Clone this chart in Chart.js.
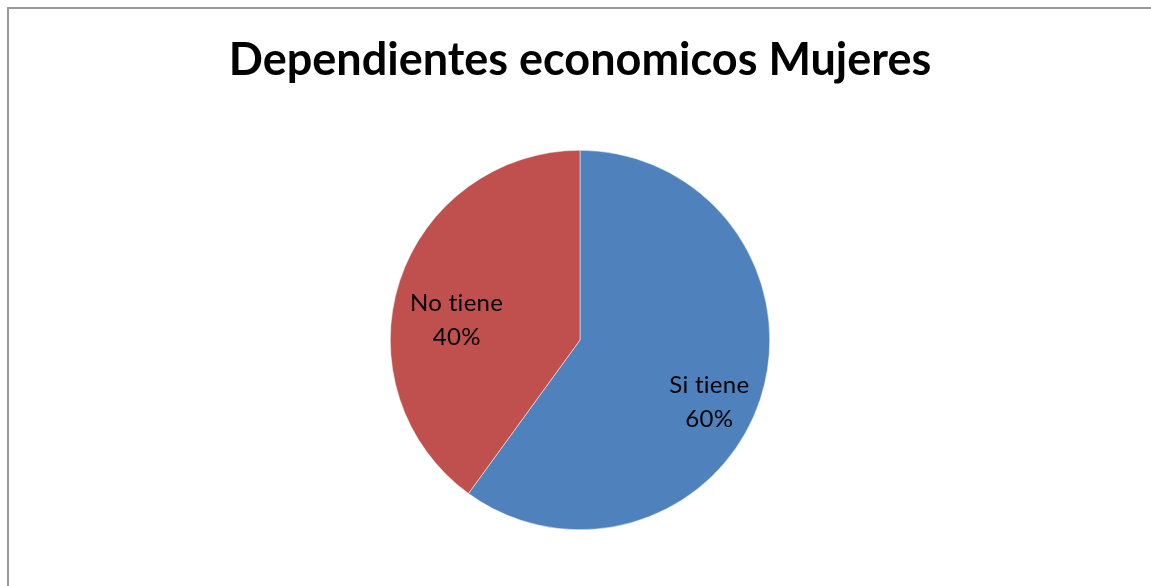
<!DOCTYPE html>
<html>
<head>
<meta charset="utf-8">
<script src="https://cdn.jsdelivr.net/npm/chart.js@4"></script>
<style>
  html, body { margin: 0; padding: 0; background: #fff; overflow: hidden; }
  #frame {
    position: absolute; left: 7px; top: 7px;
    width: 2000px; height: 2000px;
    border: 2px solid #9a9a9a; box-sizing: border-box;
  }
  #wrap { position: absolute; left: 0; top: 0; width: 1151px; height: 586px; }
</style>
</head>
<body>
<div id="frame"></div>
<div id="wrap"><canvas id="pieChart"></canvas></div>
<script>
var titleText = "Dependientes economicos Mujeres";
var categories = ["Si tiene", "No tiene"];
var shares = [60, 40];
var sliceColors = ["#4F81BD", "#C0504D"];

// writes "category" and "NN%" inside each slice
var sliceLabels = {
    id: 'sliceLabels',
    afterDatasetsDraw: function(chart) {
        var ctx = chart.ctx;
        var meta = chart.getDatasetMeta(0);
        ctx.save();
        ctx.font = '24px Lato';
        ctx.letterSpacing = '0.3px'; // keeps "ti" from joining
        ctx.fillStyle = '#000';
        ctx.textAlign = 'center';
        ctx.textBaseline = 'middle';
        meta.data.forEach(function(arc, i) {
            var mid = (arc.startAngle + arc.endAngle) / 2;
            var r = arc.outerRadius * 0.7;
            var x = arc.x + Math.cos(mid) * r + 3;
            var y = arc.y + Math.sin(mid) * r + 21;
            ctx.fillText(categories[i], x, y - 17);
            ctx.fillText(shares[i] + '%', x, y + 17);
        });
        ctx.restore();
    }
};

var ctx = document.getElementById('pieChart').getContext('2d');
var chart = new Chart(ctx, {
    type: 'pie',
    data: {
        labels: categories,
        datasets: [{
            data: shares,
            backgroundColor: sliceColors,
            borderColor: '#ffffff',
            borderWidth: 0.5
        }]
    },
    options: {
        responsive: true,
        maintainAspectRatio: false,
        animation: false,
        layout: { padding: { left: 9, right: 0, top: 0, bottom: 56 } },
        plugins: {
            legend: { display: false },
            tooltip: { enabled: false },
            title: {
                display: true,
                text: titleText,
                color: '#000',
                font: { family: 'Lato', size: 45, weight: 'bold', lineHeight: 1.2 },
                padding: { top: 33, bottom: 63 }
            }
        }
    },
    plugins: [sliceLabels]
});
</script>
</body>
</html>
